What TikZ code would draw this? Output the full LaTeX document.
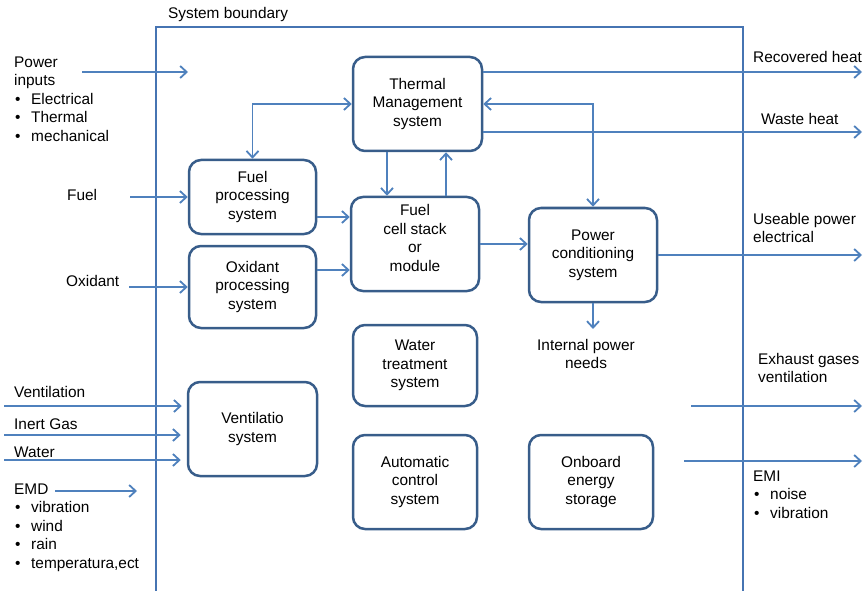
\documentclass[tikz,border=0pt]{standalone}
\usepackage{fontspec}
\setmainfont{Liberation Sans}
\usetikzlibrary{arrows.meta}
\definecolor{arrblue}{RGB}{79,129,189}
\definecolor{boxblue}{RGB}{56,93,138}
\definecolor{bndblue}{RGB}{70,116,178}
\newcommand{\bitem}[1]{\makebox[17pt][l]{\hspace{1pt}\textbullet}#1}
\begin{document}
\begin{tikzpicture}[x=1pt,y=-1pt,
  font=\fontsize{15.4}{18.6}\selectfont,
  box/.style={draw=boxblue, line width=2.5pt, rounded corners=12pt, align=center, inner sep=2pt},
  arr/.style={draw=arrblue, line width=1.8pt, -{Straight Barb[length=6.5pt,width=12pt]}},
  biarr/.style={draw=arrblue, line width=1.8pt, {Straight Barb[length=6.5pt,width=12pt]}-{Straight Barb[length=6.5pt,width=12pt]}},
  lbl/.style={anchor=west, align=left, inner sep=0pt},
  bnd/.style={draw=bndblue, line width=2.8pt}]
\useasboundingbox (0,0) rectangle (868,591);

% system boundary
\draw[bnd] (156,593) -- (156,27) -- (743,27) -- (743,593);
\node[lbl] (sb) at (168,15) {System boundary};

% boxes
\node[box, minimum width=129pt, minimum height=94pt] (tm) at (417.5,104) {Thermal\\Management\\system};
\node[box, minimum width=127pt, minimum height=74pt] (fp) at (252.5,197) {Fuel\\processing\\system};
\node[box, minimum width=127pt, minimum height=82pt] (op) at (252.5,287) {Oxidant\\processing\\system};
\node[box, minimum width=128pt, minimum height=94pt] (fc) at (415,244) {Fuel\\cell stack\\or\\module\vspace{12pt}};
\node[box, minimum width=128pt, minimum height=94pt] (pc) at (593,255) {Power\\conditioning\\system};
\node[box, minimum width=124pt, minimum height=81pt] (wt) at (415,365.5) {Water\\treatment\\system};
\node[box, minimum width=124pt, minimum height=94pt] (ac) at (415,482) {Automatic\\control\\system};
\node[box, minimum width=124pt, minimum height=94pt] (oe) at (591,482) {Onboard\\energy\\storage};
\node[box, minimum width=129pt, minimum height=94pt] (vs) at (252.5,429) {Ventilatio\\system};

% internal connectors
\draw[biarr] (fp.north) |- (tm.west);
\draw[biarr] (pc.north) |- (tm.east);
\draw[arr] ([xshift=-30.5pt]tm.south) -- ([xshift=-28pt]fc.north);
\draw[arr] ([xshift=31pt]fc.north) -- ([xshift=28.5pt]tm.south);
\draw[arr] ([yshift=-20pt]fp.east) -- ([yshift=27pt]fc.west);
\draw[arr] ([yshift=17pt]op.east) -- ([yshift=-26pt]fc.west);
\draw[arr] (fc.east) -- ([yshift=11pt]pc.west);

% outputs
\coordinate (recv) at (862,72);
\coordinate (waste) at (862,132);
\coordinate (usep) at (862,255);
\coordinate (ipntip) at (593,329);
\coordinate (exhs) at (691,406);
\coordinate (exhe) at (862,406);
\coordinate (emis) at (684,461);
\coordinate (emie) at (862,461);
\draw[arr] ([yshift=32pt]tm.east) -- (recv);
\draw[arr] ([yshift=-28pt]tm.east) -- (waste);
\draw[arr] (pc.east) -- (usep);
\draw[arr] (pc.south) -- (ipntip);
\draw[arr] (exhs) -- (exhe);
\draw[arr] (emis) -- (emie);

% inputs
\coordinate (pins) at (82,72);
\coordinate (pine) at (188,72);
\coordinate (fuelin) at (130,197);
\coordinate (oxin) at (129,287);
\coordinate (ventin) at (4,406);
\coordinate (inertin) at (4,435);
\coordinate (waterin) at (4,460);
\coordinate (emds) at (55,491);
\coordinate (emde) at (137,491);
\draw[arr] (pins) -- (pine);
\draw[arr] (fuelin) -- (fp.west);
\draw[arr] (oxin) -- (op.west);
\draw[arr, shorten >=5pt] (ventin) -- (ventin -| vs.west);
\draw[arr, shorten >=6pt] (inertin) -- (inertin -| vs.west);
\draw[arr, shorten >=6pt] (waterin) -- (waterin -| vs.west);
\draw[arr] (emds) -- (emde);

% labels left
\node[lbl] (pwr) at (14,99) {Power\\inputs\\\bitem{Electrical}\\\bitem{Thermal}\\\bitem{mechanical}};
\node[lbl] (fuel) at (67,195) {Fuel};
\node[lbl] (oxid) at (66,281) {Oxidant};
\node[lbl] (vent) at (14,392) {Ventilation};
\node[lbl] (inert) at (14,424) {Inert Gas};
\node[lbl] (water) at (14,452) {Water};
\node[lbl] (emd) at (14,527.5) {EMD\\\bitem{vibration}\\\bitem{wind}\\\bitem{rain}\\\bitem{temperatura,ect}};

% labels right
\node[lbl] (rh) at (753,57) {Recovered heat};
\node[lbl] (wh) at (761,119) {Waste heat};
\node[lbl] (up) at (753,228) {Useable power\\electrical};
\node[lbl] (eg) at (758,368) {Exhaust gases\\ventilation};
\node[lbl] (emi) at (753,494.5) {EMI\\\bitem{noise}\\\bitem{vibration}};
\node[align=center, inner sep=0pt] (ipn) at (586,354) {Internal power\\needs};
\end{tikzpicture}
\end{document}
